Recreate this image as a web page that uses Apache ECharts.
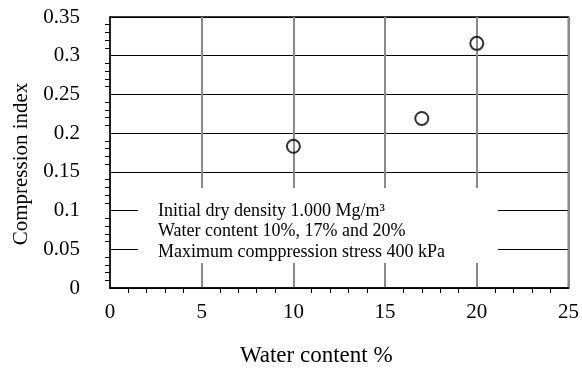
<!DOCTYPE html>
<html>
<head>
<meta charset="utf-8">
<script src="https://cdn.jsdelivr.net/npm/echarts@6/dist/echarts.min.js"></script>
<style>
html,body{margin:0;padding:0;background:#fff;}
#chart{width:582px;height:372px;}
</style>
</head>
<body>
<div id="chart"></div>
<script>
// 含水率 (%) 与压缩指数
var waterContent = [10, 17, 20];
var compressionIndex = [0.183, 0.219, 0.316];
var xTicks = [0, 5, 10, 15, 20, 25];
var noteLines = [
    'Initial dry density 1.000 Mg/m\u00b3',
    'Water content 10%, 17% and 20%',
    'Maximum comppression stress 400 kPa'
];

var font = '"Liberation Serif", "Times New Roman", serif';
var points = [];
for (var i = 0; i < waterContent.length; i++) {
    points.push([waterContent[i], compressionIndex[i]]);
}

var myChart = echarts.init(document.getElementById('chart'));
myChart.setOption({
    animation: false,
    backgroundColor: '#fff',
    grid: {
        left: 110, right: 12, top: 17, bottom: 80,
        show: true, borderColor: '#000', borderWidth: 1.5, backgroundColor: 'transparent'
    },
    xAxis: {
        type: 'value',
        min: xTicks[0], max: xTicks[xTicks.length - 1], interval: 5,
        name: 'Water content %',
        nameLocation: 'middle', nameGap: 56,
        nameTextStyle: {fontFamily: font, fontSize: 23, color: '#000', padding: [0, 46, 0, 0]},
        axisLine: {lineStyle: {color: '#000', width: 1.5}},
        axisTick: {show: false},
        minorTick: {show: true, splitNumber: 5, length: 5, lineStyle: {color: '#000', width: 1}},
        axisLabel: {fontFamily: font, fontSize: 21, color: '#000', margin: 14},
        splitLine: {show: true, lineStyle: {color: '#8a8a8a', width: 2}}
    },
    yAxis: {
        type: 'value',
        min: 0, max: 0.35, interval: 0.05,
        name: 'Compression index',
        nameLocation: 'middle', nameGap: 77,
        nameTextStyle: {fontFamily: font, fontSize: 21, color: '#000', padding: [0, 23, 0, 0]},
        axisLine: {show: true, lineStyle: {color: '#000', width: 1.5}},
        axisTick: {show: false},
        minorTick: {show: true, splitNumber: 5, length: 5, lineStyle: {color: '#000', width: 1}},
        axisLabel: {
            fontFamily: font, fontSize: 21, color: '#000', margin: 30,
            formatter: function (v) { return String(+v.toFixed(2)); }
        },
        splitLine: {show: true, lineStyle: {color: '#000', width: 1}}
    },
    graphic: [
        {
            type: 'rect', z: 10,
            shape: {x: 138, y: 188, width: 360, height: 75},
            style: {fill: '#fff'}
        },
        {
            type: 'text', z: 11, left: 158, top: 201,
            style: {
                text: noteLines.join('\n'),
                font: '18px ' + font,
                fill: '#000',
                lineHeight: 20.5
            }
        }
    ],
    series: [{
        type: 'scatter',
        z: 20,
        data: points,
        symbol: 'circle',
        symbolSize: 13,
        itemStyle: {color: 'transparent', borderColor: '#000', borderWidth: 2}
    }]
});
</script>
</body>
</html>
